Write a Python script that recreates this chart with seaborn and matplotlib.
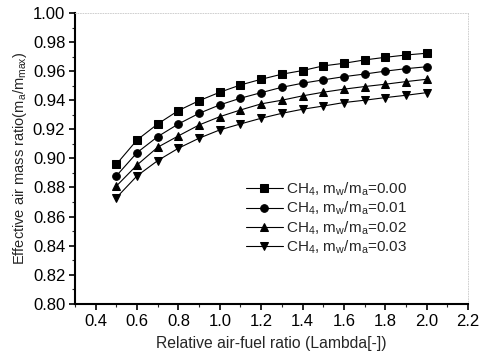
import numpy as np
import pandas as pd
import matplotlib
matplotlib.use("Agg")
import matplotlib.pyplot as plt
import seaborn as sns
from matplotlib.ticker import MultipleLocator

lam = [0.5, 0.6, 0.7, 0.8, 0.9, 1.0, 1.1, 1.2, 1.3, 1.4, 1.5, 1.6, 1.7, 1.8, 1.9, 2.0]
r000 = [0.896, 0.9127, 0.9237, 0.9329, 0.9397, 0.9455, 0.9505, 0.9544, 0.9579, 0.9604, 0.9636, 0.9654, 0.9677, 0.9695, 0.9711, 0.9723]
r001 = [0.888, 0.904, 0.915, 0.9237, 0.931, 0.9368, 0.9414, 0.9452, 0.9489, 0.9517, 0.954, 0.9562, 0.958, 0.960, 0.9617, 0.963]
r002 = [0.881, 0.8955, 0.9077, 0.9155, 0.923, 0.9287, 0.9333, 0.9375, 0.940, 0.943, 0.9455, 0.9476, 0.9494, 0.951, 0.9528, 0.9544]
r003 = [0.873, 0.888, 0.8985, 0.907, 0.9139, 0.9196, 0.9237, 0.9276, 0.931, 0.9338, 0.936, 0.9384, 0.940, 0.9418, 0.9434, 0.9452]
labels = [r"CH$_4$, m$_w$/m$_a$=0.00", r"CH$_4$, m$_w$/m$_a$=0.01",
          r"CH$_4$, m$_w$/m$_a$=0.02", r"CH$_4$, m$_w$/m$_a$=0.03"]
xticks = [0.4, 0.6, 0.8, 1.0, 1.2, 1.4, 1.6, 1.8, 2.0, 2.2]
yticks = [0.80, 0.82, 0.84, 0.86, 0.88, 0.90, 0.92, 0.94, 0.96, 0.98, 1.00]

rows = []
for lab, vals in zip(labels, [r000, r001, r002, r003]):
    for x, y in zip(lam, vals):
        rows.append({"lam": x, "ratio": y, "series": lab})
df = pd.DataFrame(rows)

sns.set_style("ticks")
plt.rcParams['font.family'] = ['Liberation Sans', 'DejaVu Sans']
plt.rcParams['mathtext.fontset'] = 'custom'
plt.rcParams['mathtext.rm'] = 'Liberation Sans'
plt.rcParams['mathtext.it'] = 'Liberation Sans'

fig = plt.figure(figsize=(4.81, 3.60), dpi=100)
ax = fig.add_axes([0.156, 0.156, 0.817, 0.808])

sns.lineplot(data=df, x="lam", y="ratio", hue="series", style="series",
             markers=['s', 'o', '^', 'v'], dashes=False,
             palette=['black'] * 4, linewidth=0.8, markersize=5.5,
             markeredgecolor='black', ax=ax)

ax.set_xlim(0.3, 2.2)
ax.set_ylim(0.80, 1.00)
ax.set_xticks(xticks)
ax.set_yticks(yticks)
ax.set_xticklabels([f"{t:.1f}" for t in xticks])
ax.set_yticklabels([f"{t:.2f}" for t in yticks])
ax.xaxis.set_minor_locator(MultipleLocator(0.1))
ax.yaxis.set_minor_locator(MultipleLocator(0.01))
ax.tick_params(axis='both', which='major', direction='out', length=4, width=1.2,
               labelsize=12, colors='black', pad=3)
ax.tick_params(axis='both', which='minor', direction='out', length=2, width=0.8)

for s in ['left', 'bottom']:
    ax.spines[s].set_linewidth(1.5)
    ax.spines[s].set_color('black')
for s in ['top', 'right']:
    ax.spines[s].set_visible(True)
    ax.spines[s].set_linewidth(0.6)
    ax.spines[s].set_color('#c8c8c8')
    ax.spines[s].set_linestyle((0, (1, 2)))

ax.set_xlabel("Relative air-fuel ratio (Lambda[-])", fontsize=11.3, labelpad=5)
ax.set_ylabel(r"Effective air mass ratio(m$_a$/m$_{max}$)", fontsize=10.5, labelpad=3)

leg = ax.legend(loc='center left', bbox_to_anchor=(0.435, 0.294), frameon=False,
                fontsize=11, handlelength=2.4, handletextpad=0.25,
                labelspacing=0.12, borderaxespad=0, borderpad=0)

fig.savefig("out.png", dpi=100)
